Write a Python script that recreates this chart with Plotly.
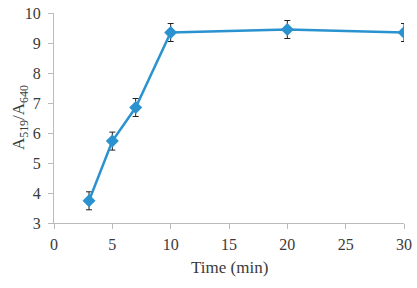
import plotly.graph_objects as go

time_min = [3, 5, 7, 10, 20, 30]
ratio = [3.74, 5.73, 6.85, 9.35, 9.45, 9.35]
err = [0.3, 0.3, 0.3, 0.3, 0.3, 0.3]

TXT = "#3a3a3a"
fig = go.Figure()
fig.add_trace(go.Scatter(
    x=time_min, y=ratio, mode="lines+markers",
    line=dict(color="#2a93cf", width=2.5),
    marker=dict(symbol="diamond", size=10, color="#2a93cf"),
    error_y=dict(type="data", array=err, color="#222222", thickness=1, width=3),
))
fig.update_layout(
    width=417, height=288,
    margin=dict(l=54, r=13, t=13, b=65, autoexpand=False),
    paper_bgcolor="white", plot_bgcolor="white",
    showlegend=False,
    font=dict(family="Liberation Serif", color=TXT, size=16),
    annotations=[
        dict(text="Time (min)", xref="paper", yref="paper", x=0.5, y=-0.214,
             xanchor="center", yanchor="middle", showarrow=False,
             font=dict(size=17, color=TXT)),
        dict(text="A<sub>519</sub>/A<sub>640</sub>", xref="paper", yref="paper",
             x=-0.097, y=0.5, xanchor="center", yanchor="middle", textangle=-90,
             showarrow=False, font=dict(size=17, color=TXT)),
    ],
)
fig.update_xaxes(
    range=[0, 30], tickvals=[0, 5, 10, 15, 20, 25, 30],
    showline=True, linecolor="#bbbbbb", linewidth=1,
    ticks="outside", tickcolor="#bbbbbb", ticklen=5,
    showgrid=False, zeroline=False, automargin=False,
    ticklabelstandoff=2,
)
fig.update_yaxes(
    range=[3, 10], tickvals=[3, 4, 5, 6, 7, 8, 9, 10],
    showline=True, linecolor="#bbbbbb", linewidth=1,
    ticks="outside", tickcolor="#bbbbbb", ticklen=5,
    showgrid=False, zeroline=False, automargin=False,
    ticklabelstandoff=4,
)
fig.write_html("out.html", config={"displayModeBar": False},
               post_script="document.body.style.margin='0px';")
